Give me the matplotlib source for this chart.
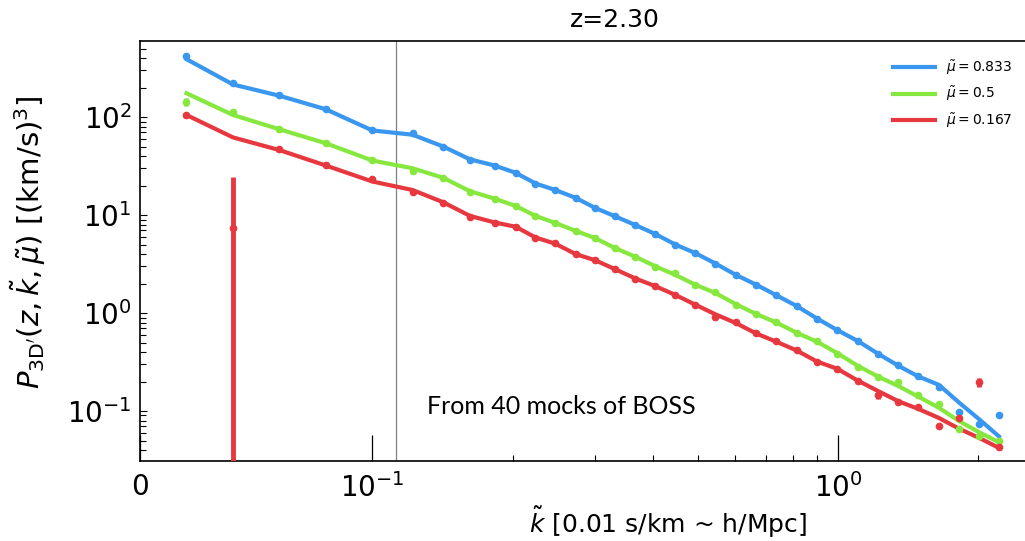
import numpy as np
import matplotlib
matplotlib.use("Agg")
import matplotlib.pyplot as plt
from matplotlib.ticker import FixedLocator

# k-Werte (gemeinsam fuer Daten und Modell)
k_vals = [0.02, 0.04, 0.06, 0.08, 0.10, 0.122, 0.142, 0.162, 0.183, 0.203,
          0.224, 0.247, 0.273, 0.301, 0.332, 0.367, 0.405, 0.447, 0.493, 0.545,
          0.603, 0.666, 0.736, 0.814, 0.900, 0.995, 1.10, 1.217, 1.345, 1.486,
          1.644, 1.817, 2.009, 2.213]

# Messpunkte (Mittel aus 40 Mocks)
p_blue = [419, 224, 168, 121, 73.6, 68.2, 49.8, 36.4, 31.6, 27.0,
          20.6, 18.0, 14.9, 11.8, 9.77, 7.9, 6.4, 4.94, 4.1, 3.18,
          2.44, 1.94, 1.52, 1.18, 0.875, 0.674, 0.522, 0.382, 0.297, 0.227,
          0.177, 0.098, 0.074, 0.091]
p_green = [143, 113, 74.8, 53.8, 36.4, 28.1, 23.9, 17.3, 14.6, 12.4,
           9.77, 8.34, 6.87, 5.82, 4.6, 3.75, 2.96, 2.57, 1.93, 1.64,
           1.21, 0.977, 0.81, 0.625, 0.518, 0.386, 0.281, 0.222, 0.198, 0.146,
           0.118, 0.0655, 0.0551, 0.050]
p_red = [105, 7.4, 46.8, 32.4, 23.1, 17.3, 13.4, 9.6, 8.34, 7.6,
         5.82, 5.18, 4.0, 3.47, 2.81, 2.22, 1.89, 1.53, 1.21, 0.917,
         0.81, 0.625, 0.518, 0.419, 0.316, 0.27, 0.204, 0.146, 0.124, 0.111,
         0.0703, 0.0853, 0.196, 0.043]

# Fehlerbalken
e_blue = [25, 8, 5, 3, 2, 1.5, 1.0, 0.8, 0.6, 0.5,
          0.4, 0.3, 0.25, 0.2, 0.15, 0.12, 0.1, 0.08, 0.06, 0.05,
          0.04, 0.03, 0.025, 0.02, 0.015, 0.012, 0.01, 0.008, 0.006, 0.005,
          0.004, 0.003, 0.004, 0.004]
e_green = [12, 7, 4, 2.5, 1.5, 1.2, 0.9, 0.6, 0.5, 0.4,
           0.3, 0.25, 0.2, 0.15, 0.12, 0.1, 0.08, 0.06, 0.05, 0.04,
           0.03, 0.025, 0.02, 0.015, 0.012, 0.01, 0.008, 0.006, 0.005, 0.004,
           0.003, 0.003, 0.003, 0.003]
e_red = [6, 17, 3, 2, 1.2, 0.9, 0.7, 0.5, 0.4, 0.35,
         0.25, 0.2, 0.15, 0.12, 0.1, 0.08, 0.06, 0.05, 0.04, 0.06,
         0.03, 0.025, 0.02, 0.015, 0.012, 0.01, 0.008, 0.012, 0.005, 0.004,
         0.003, 0.004, 0.02, 0.003]

# Modellkurven
m_blue = [390, 215, 165, 120, 73, 66, 50, 37, 32, 27,
          21, 18, 15, 11.8, 9.7, 7.9, 6.4, 5.0, 4.1, 3.2,
          2.45, 1.95, 1.52, 1.18, 0.88, 0.67, 0.52, 0.385, 0.29, 0.225,
          0.185, 0.122, 0.082, 0.055]
m_green = [175, 105, 75, 54, 36, 30, 24, 17.5, 14.7, 12.4,
           9.8, 8.3, 6.9, 5.8, 4.6, 3.75, 3.0, 2.45, 1.95, 1.6,
           1.23, 0.98, 0.8, 0.63, 0.51, 0.39, 0.29, 0.225, 0.18, 0.14,
           0.108, 0.079, 0.0605, 0.048]
m_red = [105, 62, 46, 32, 22, 18, 13.5, 9.8, 8.4, 7.6,
         5.9, 5.1, 4.0, 3.45, 2.8, 2.25, 1.88, 1.53, 1.22, 0.97,
         0.79, 0.62, 0.51, 0.415, 0.32, 0.27, 0.205, 0.16, 0.126, 0.105,
         0.085, 0.066, 0.053, 0.042]

labels = [r'$\tilde{\mu}=0.833$', r'$\tilde{\mu}=0.5$', r'$\tilde{\mu}=0.167$']
colors = ['#3A97F0', '#86E83E', '#E8383F']


def make_plot(output_file="out.png"):
    fig = plt.figure(figsize=(10.25, 5.41), dpi=100)
    # Achse reicht rechts ueber den Bildrand hinaus (wie im abgeschnittenen Original)
    ax = fig.add_axes([0.1366, 0.1479, 0.9268, 0.7763])

    ax.set_xscale('symlog', linthresh=0.1, linscale=0.4487)
    ax.set_yscale('log')

    handles = []
    for p, e, m, c, lab in zip([p_blue, p_green, p_red], [e_blue, e_green, e_red],
                               [m_blue, m_green, m_red], colors, labels):
        h, = ax.plot(k_vals, m, color=c, lw=3, label=lab, zorder=3)
        handles.append(h)
        ax.errorbar(k_vals, p, yerr=e, fmt='o', color=c, ms=4.5,
                    elinewidth=3.5, capsize=0, zorder=4)

    ax.axvline(0.1124, color='gray', lw=0.9, zorder=1)

    ax.set_xlim(0, 3.47)
    ax.set_ylim(0.0309, 597)

    ax.xaxis.set_minor_locator(FixedLocator([0.2, 0.3, 0.4, 0.5, 0.6, 0.7, 0.8, 0.9, 2, 3]))
    ax.tick_params(axis='x', which='major', direction='in', length=19, width=0.9,
                   labelsize=20, pad=9)
    ax.tick_params(axis='x', which='minor', direction='in', length=4, width=0.8)
    ax.tick_params(axis='y', which='both', direction='in', length=4, width=0.8,
                   labelsize=20, pad=6)
    ax.tick_params(axis='y', which='major', length=5)
    for s in ax.spines.values():
        s.set_linewidth(1.2)

    ax.set_xlabel(r'$\tilde{k}$ [0.01 s/km ~ h/Mpc]', fontsize=18)
    ax.xaxis.set_label_coords((668 - 140) / 950, -0.105)
    ax.set_ylabel(r"$P_{\rm 3D'}(z,\tilde{k},\tilde{\mu})$ [(km/s)$^3$]", fontsize=21)
    ax.yaxis.set_label_coords(-0.097, (541 - 242 - 80) / 420)

    fig.text(615 / 1025, 1 - 20 / 541, 'z=2.30', fontsize=18, ha='center', va='center')
    fig.text(561 / 1025, 1 - 406 / 541, 'From 40 mocks of BOSS', fontsize=18,
             family='Lato', ha='center', va='center')

    fig.legend(handles=handles, loc='upper right', bbox_to_anchor=(1.0, 0.915),
               frameon=False, fontsize=10, handlelength=3, handletextpad=0.8,
               labelspacing=0.55)

    fig.savefig(output_file, dpi=100)


if __name__ == "__main__":
    make_plot("out.png")
